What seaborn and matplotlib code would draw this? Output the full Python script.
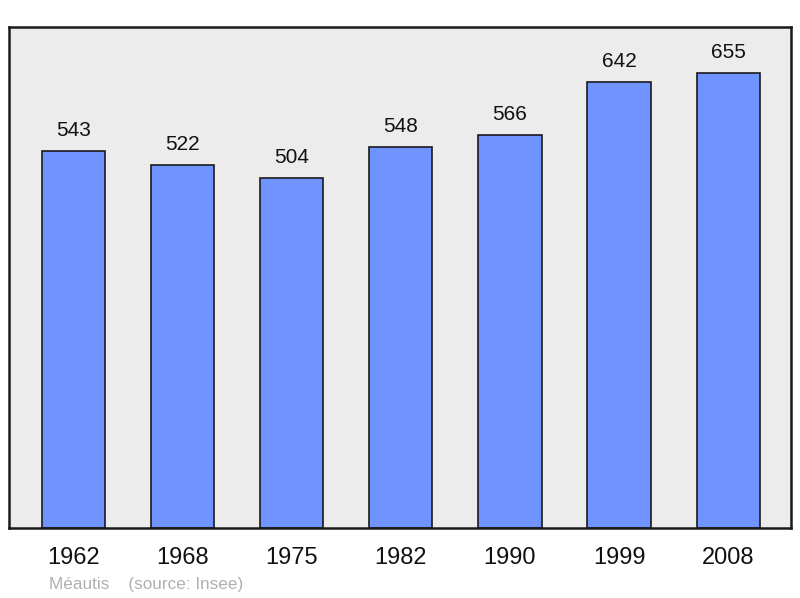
import matplotlib
matplotlib.use("Agg")
import matplotlib.pyplot as plt
import seaborn as sns
import pandas as pd

years = ["1962", "1968", "1975", "1982", "1990", "1999", "2008"]
population = [543, 522, 504, 548, 566, 642, 655]

sns.set_style("white")
plt.rcParams['font.family'] = ['Liberation Sans', 'DejaVu Sans']

df = pd.DataFrame({"year": years, "pop": population})

fig = plt.figure(figsize=(8, 5.98), dpi=100)
ax = fig.add_axes([9/800, 70/598, 782/800, 501/598])
ax.set_facecolor("#ececec")

sns.barplot(data=df, x="year", y="pop", color="#7094ff", width=0.58,
            edgecolor="#1a1a1a", linewidth=1.2, saturation=1, ax=ax, zorder=2)

for i, v in enumerate(population):
    ax.annotate(str(v), (i, v), xytext=(0, 8), textcoords="offset points",
                ha="center", va="bottom", fontsize=15, color="#111111")

ax.set_ylim(0, 721)
ax.set_xlim(-0.59, 6.575)
ax.set_yticks([])
ax.set_xlabel("")
ax.set_ylabel("")
ax.tick_params(axis="x", length=0, pad=14, labelsize=17, colors="#111111")
for s in ax.spines.values():
    s.set_visible(True)
    s.set_linewidth(1.8)
    s.set_color("#1a1a1a")

fig.text(49/800, 1 - 584/598, "Méautis    (source: Insee)", fontsize=12.3,
         color="#b0b0b0", ha="left", va="center")

fig.savefig("out.png", dpi=100, facecolor="white")
